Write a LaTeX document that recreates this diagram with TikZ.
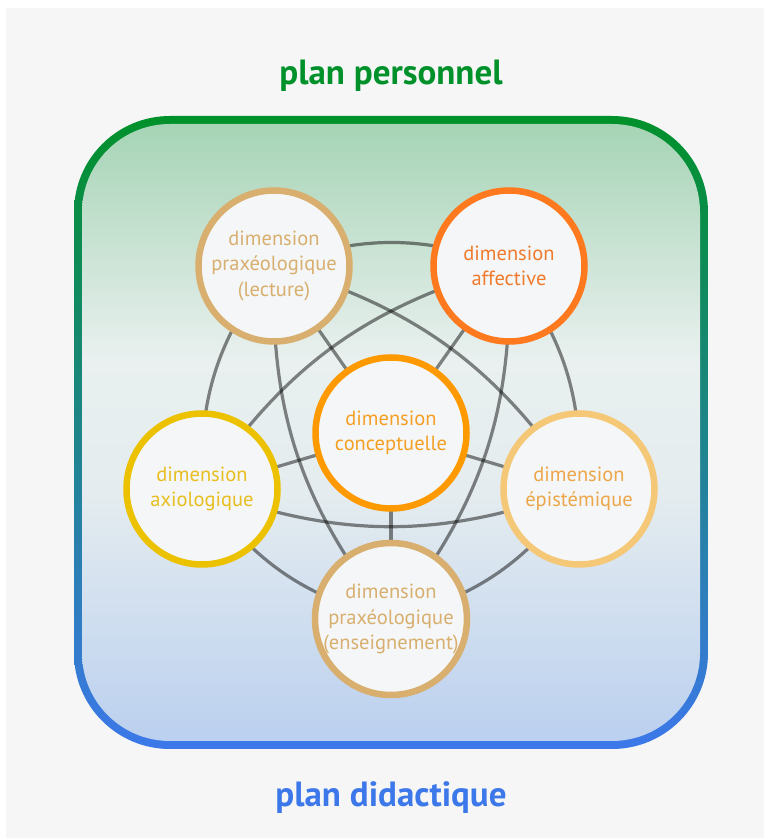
\documentclass[tikz,border=0pt]{standalone}
\usepackage{fontspec}
\setmainfont{PT Sans}
\usetikzlibrary{positioning}

\definecolor{bggray}{HTML}{F6F6F6}
\definecolor{persgreen}{HTML}{00912A}
\definecolor{didblue}{HTML}{3C78EA}
\definecolor{filltop}{HTML}{A6D4B5}
\definecolor{fillmid}{HTML}{E9F0EF}
\definecolor{fillmidb}{HTML}{E4ECEF}
\definecolor{fillbot}{HTML}{BBD0EF}
\definecolor{circfill}{HTML}{F4F6F7}
\definecolor{tan}{HTML}{D8AF6E}
\definecolor{affline}{HTML}{FF7A1E}
\definecolor{afftext}{HTML}{F07A2C}
\definecolor{concline}{HTML}{FF9900}
\definecolor{conctext}{HTML}{F5A025}
\definecolor{axioline}{HTML}{EBC100}
\definecolor{axiotext}{HTML}{E8BE20}
\definecolor{episline}{HTML}{F5C878}
\definecolor{epistext}{HTML}{EDA64A}

\pgfdeclareverticalshading{planfill}{100bp}{color(0bp)=(fillbot); color(25bp)=(fillbot);
  color(45bp)=(fillmidb); color(56bp)=(fillmid); color(75bp)=(filltop); color(100bp)=(filltop)}

\pgfdeclarelayer{back}
\pgfdeclarelayer{links}
\pgfsetlayers{back,links,main}

\begin{document}
\begin{tikzpicture}[x=1pt, y=1pt,
    dim/.style={circle, draw=#1, fill=circfill, line width=6.5pt,
      minimum size=151pt, inner sep=0pt, align=center,
      font=\fontsize{20.5}{25.5}\selectfont},
    link/.style={draw=black, opacity=0.47, line width=3.2pt},
    plan/.style={font=\fontsize{35}{40}\selectfont\bfseries}
]
  \useasboundingbox (0,0) rectangle (764,838);

  % dimensions
  \node[dim=concline, text=conctext] (conc) at (391,405) {dimension\\conceptuelle};
  \node[dim=tan, text=tan] (lect) at (274,572) {dimension\\praxéologique\\(lecture)};
  \node[dim=affline, text=afftext] (aff) at (509,572) {dimension\\affective};
  \node[dim=axioline, text=axiotext] (axio) at (202,349) {dimension\\axiologique};
  \node[dim=episline, text=epistext] (epis) at (579,349) {dimension\\épistémique};
  \node[dim=tan, text=tan] (ens) at (391,219) {dimension\\praxéologique\\(enseignement)};

  \node[plan, text=persgreen] (pers) at (391,762) {plan personnel};
  \node[plan, text=didblue] (did) at (391,40) {plan didactique};

  \begin{pgfonlayer}{back}
    \fill[white] (0,0) rectangle (764,838);
    \fill[bggray] (6,0) rectangle (764,830);
    \shade[top color=persgreen, bottom color=didblue, rounded corners=96pt]
      (74,89) rectangle (708,722);
    \path[shading=planfill, rounded corners=88pt] (82,97) rectangle (700,714);
  \end{pgfonlayer}

  \begin{pgfonlayer}{links}
    % spokes
    \foreach \n in {lect,aff,axio,epis,ens}
      \draw[link] (conc.center) -- (\n.center);
    % ring
    \foreach \a/\b in {lect/aff,aff/epis,epis/ens,ens/axio,axio/lect}
      \draw[link] (\a.center) to[bend left=20] (\b.center);
    % star
    \foreach \a/\b in {lect/epis,epis/axio,axio/aff,aff/ens,ens/lect}
      \draw[link] (\a.center) to[bend left=20] (\b.center);
  \end{pgfonlayer}
\end{tikzpicture}
\end{document}
